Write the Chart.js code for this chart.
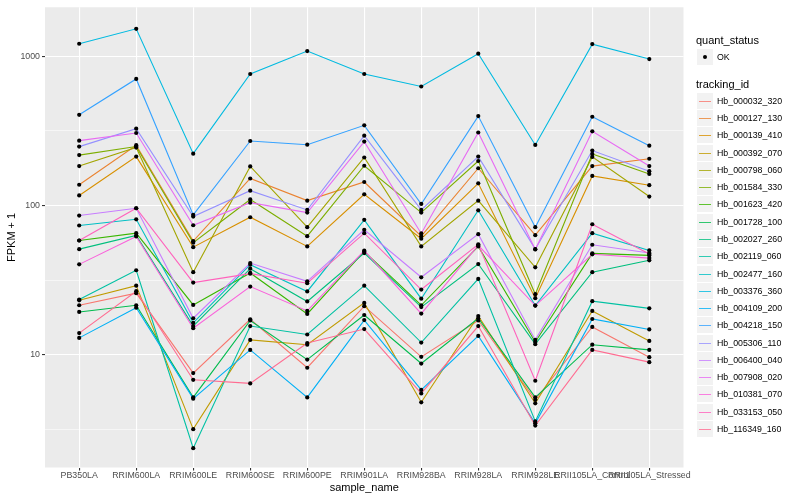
<!DOCTYPE html>
<html><head><meta charset="utf-8">
<script src="https://cdn.jsdelivr.net/npm/chart.js@4.4.1/dist/chart.umd.min.js"></script>
<style>
html,body{margin:0;padding:0;background:#fff;}
#wrap{position:relative;width:800px;height:500px;font-family:"Liberation Sans",Arial,sans-serif;overflow:hidden;}
#c{position:absolute;left:0;top:0;}
.lt{position:absolute;font-size:11px;height:12px;line-height:12px;color:#000;white-space:nowrap;}
.key{position:absolute;width:16px;height:16px;background:#F2F2F2;}
.lab{position:absolute;font-size:8.8px;height:10px;line-height:10px;color:#000;white-space:nowrap;}
</style></head><body>
<div id="wrap"><canvas id="c" width="800" height="500"></canvas><div id="legend"></div></div>
<script>
// ---- data ----
const samples = ["PB350LA","RRIM600LA","RRIM600LE","RRIM600SE","RRIM600PE","RRIM901LA","RRIM928BA","RRIM928LA","RRIM928LE","RRII105LA_Control","RRII105LA_Stressed"];
const trackingIds = ["Hb_000032_320","Hb_000127_130","Hb_000139_410","Hb_000392_070","Hb_000798_060","Hb_001584_330","Hb_001623_420","Hb_001728_100","Hb_002027_260","Hb_002119_060","Hb_002477_160","Hb_003376_360","Hb_004109_200","Hb_004218_150","Hb_005306_110","Hb_006400_040","Hb_007908_020","Hb_010381_070","Hb_033153_050","Hb_116349_160"];
const Hb_000032_320 = [21.5, 25.9, 7.55, 17.3, 8.2, 21.2, 9.7, 17.0, 5.0, 15.4, 9.65];
const Hb_000127_130 = [138, 254, 57.8, 152, 108, 144, 62.4, 178, 63.4, 184, 206];
const Hb_000139_410 = [117, 213, 52.7, 83.6, 53.3, 119, 60, 141, 24, 158, 137];
const Hb_000392_070 = [23.2, 29.1, 3.18, 12.6, 11.7, 22.3, 4.81, 18.2, 4.74, 19.7, 12.4];
const Hb_000798_060 = [184, 245, 35.8, 183, 71.7, 210, 53.3, 108, 38.6, 212, 115];
const Hb_001584_330 = [218, 249, 56.5, 110, 62.4, 185, 89.8, 199, 25.5, 222, 163];
const Hb_001623_420 = [58.4, 65.4, 21.6, 35.4, 18.8, 49.3, 21.5, 53.3, 12.2, 47.9, 46.4];
const Hb_001728_100 = [19.4, 21.5, 5.19, 17.0, 9.3, 18.5, 8.75, 17.6, 5.19, 11.7, 10.8];
const Hb_002027_260 = [51.1, 63.1, 15.6, 37.8, 22.8, 48.1, 20.9, 40.6, 11.8, 35.8, 43];
const Hb_002119_060 = [23.5, 36.9, 2.37, 15.6, 13.7, 29.1, 12.1, 32.3, 3.58, 22.9, 20.5];
const Hb_002477_160 = [73.6, 81, 16.4, 40.2, 26.6, 80.3, 23.8, 93, 21.4, 65.4, 50.1];
const Hb_003376_360 = [1215, 1530, 223, 762, 1085, 762, 628, 1042, 255, 1208, 959];
const Hb_004109_200 = [13.0, 20.7, 5.09, 10.8, 5.19, 17.1, 5.82, 13.4, 3.48, 17.4, 14.8];
const Hb_004218_150 = [406, 706, 86.7, 271, 256, 345, 102.6, 398, 71.7, 394, 252];
const Hb_005306_110 = [248.5, 327.6, 84.5, 126, 93.6, 294, 93.6, 213, 51.1, 233.7, 170];
const Hb_006400_040 = [85.8, 96, 17.6, 41.2, 31.1, 68.9, 33.1, 64.4, 12.6, 54.7, 48.1];
const Hb_007908_020 = [272.5, 306.6, 73.9, 104.7, 89.8, 268.4, 65.1, 309, 50.9, 314.8, 184];
const Hb_010381_070 = [40.4, 62.1, 15.1, 28.7, 19.7, 49.9, 18.9, 54.1, 21.4, 47.2, 44.5];
const Hb_033153_050 = [58.4, 96, 30.5, 35.0, 30.2, 65.4, 27.4, 55, 6.71, 75, 47.4];
const Hb_116349_160 = [14.0, 26.7, 6.81, 6.44, 12.0, 14.9, 5.52, 15.6, 3.36, 10.8, 8.94];
const seriesValues = [Hb_000032_320,Hb_000127_130,Hb_000139_410,Hb_000392_070,Hb_000798_060,Hb_001584_330,Hb_001623_420,Hb_001728_100,Hb_002027_260,Hb_002119_060,Hb_002477_160,Hb_003376_360,Hb_004109_200,Hb_004218_150,Hb_005306_110,Hb_006400_040,Hb_007908_020,Hb_010381_070,Hb_033153_050,Hb_116349_160];
const yTickValues = [10, 100, 1000];
const yTickLabels = ["10", "100", "1000"];
const yMinorValues = [Math.sqrt(10), Math.sqrt(1000), Math.sqrt(100000)];
const statusLabels = ["OK"];

// ---- style ----
const colors = ["#F8766D","#EA8331","#D89000","#C09B00","#A3A500","#7CAE00","#39B600","#00BB4E","#00BF7D","#00C1A3","#00BFC4","#00BAE0","#00B0F6","#35A2FF","#9590FF","#C77CFF","#E76BF3","#FA62DB","#FF62BC","#FF6C91"];
Chart.defaults.font.family = '"Liberation Sans", Arial, sans-serif';

const datasets = [];
seriesValues.forEach((vals, i) => {
  const pts = vals.map((v, j) => ({x: j, y: v}));
  datasets.push({label: trackingIds[i], data: pts, borderColor: colors[i], backgroundColor: colors[i],
    borderWidth: 1.1, pointRadius: 0, fill: false, tension: 0, order: -i});
});
seriesValues.forEach((vals, i) => {
  const pts = vals.map((v, j) => ({x: j, y: v}));
  datasets.push({label: trackingIds[i] + ' pts', data: pts, showLine: false, pointRadius: 2.1,
    pointBackgroundColor: '#000', pointBorderWidth: 0, borderColor: '#000', order: -100});
});

const panelBg = {
  id: 'panelBg',
  beforeDraw(chart) {
    const {ctx, chartArea: a} = chart;
    ctx.save(); ctx.fillStyle = '#EBEBEB';
    ctx.fillRect(a.left, a.top, a.right - a.left, a.bottom - a.top);
    ctx.restore();
  }
};

new Chart(document.getElementById('c'), {
  type: 'line',
  data: {datasets},
  plugins: [panelBg],
  options: {
    responsive: false, animation: false, devicePixelRatio: 1,
    events: [],
    layout: {padding: {left: 5, top: 5, right: 116.5, bottom: 5.4}},
    plugins: {legend: {display: false}, tooltip: {enabled: false}},
    scales: {
      x: {
        type: 'linear', min: -0.6, max: 10.6,
        afterBuildTicks: s => { s.ticks = samples.map((_, i) => ({value: i})); },
        afterFit: s => { s.height = 27.1; },
        ticks: {callback: v => samples[v] ?? '', autoSkip: false, maxRotation: 0, minRotation: 0,
          color: '#4D4D4D', font: {size: 8.8}, padding: 0},
        grid: {color: '#FFFFFF', lineWidth: 1.1, tickColor: '#333333', tickLength: 3, drawTicks: true},
        border: {display: false},
        title: {display: true, text: 'sample_name', color: '#000', font: {size: 11}, padding: 0}
      },
      y: {
        type: 'logarithmic', min: 1.76, max: 2132,
        afterBuildTicks: s => {
          const all = yTickValues.concat(yMinorValues).sort((a, b) => a - b);
          s.ticks = all.map(v => ({value: v}));
        },
        afterFit: s => { s.width = 40; },
        ticks: {callback: v => { const k = yTickValues.indexOf(v); return k >= 0 ? yTickLabels[k] : ''; },
          autoSkip: false, color: '#4D4D4D', font: {size: 8.8}, padding: 2},
        grid: {color: '#FFFFFF',
          lineWidth: c => (c.tick && yTickValues.includes(c.tick.value)) ? 1.1 : 0.55,
          tickColor: c => (c.tick && yTickValues.includes(c.tick.value)) ? '#333333' : 'rgba(0,0,0,0)',
          tickLength: 3, drawTicks: true},
        border: {display: false},
        title: {display: true, text: 'FPKM + 1', color: '#000', font: {size: 11}, padding: 0}
      }
    }
  }
});

// ---- legend (HTML) ----
const lg = document.getElementById('legend');
function add(cls, style, text) {
  const d = document.createElement('div'); d.className = cls; Object.assign(d.style, style);
  if (text !== undefined) d.textContent = text; lg.appendChild(d); return d;
}
add('lt', {left: '696px', top: '34px'}, 'quant_status');
statusLabels.forEach((s, i) => {
  const cy = Math.round(57 + i * 17.28);
  const k = add('key', {left: '697px', top: (cy - 8) + 'px'});
  const dot = document.createElement('div');
  Object.assign(dot.style, {position: 'absolute', left: '6px', top: '6px', width: '4px', height: '4px', borderRadius: '50%', background: '#000'});
  k.appendChild(dot);
  add('lab', {left: '717px', top: (cy - 5) + 'px'}, s);
});
add('lt', {left: '696px', top: '78px'}, 'tracking_id');
trackingIds.forEach((t, i) => {
  const cy = Math.round(100.7 + i * 17.28);
  const k = add('key', {left: '697px', top: (cy - 8) + 'px'});
  const ln = document.createElement('div');
  Object.assign(ln.style, {position: 'absolute', left: '2px', top: '8px', width: '12px', height: '1px', background: colors[i], opacity: '0.8'});
  k.appendChild(ln);
  add('lab', {left: '717px', top: (cy - 5) + 'px'}, t);
});
</script>
</body></html>
